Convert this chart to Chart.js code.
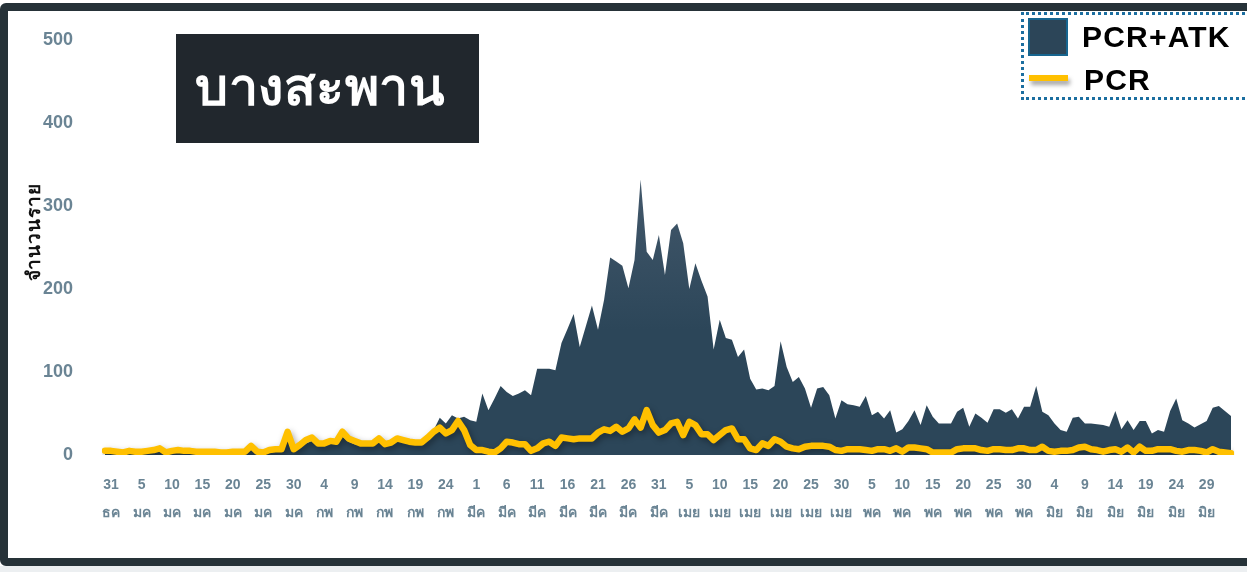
<!DOCTYPE html>
<html lang="th">
  <head>
    <meta charset="UTF-8" />
    <script src="https://cdn.jsdelivr.net/npm/chart.js"></script>
    <title>บางสะพาน</title>
    <style>
      html, body { margin: 0; padding: 0; background: #fff; overflow: hidden; }
      body { width: 1247px; height: 572px; position: relative; font-family: "Liberation Sans", Arial, sans-serif; }
      #frame {
        position: absolute; left: 0; top: 3px; width: 1290px; height: 563px;
        box-sizing: border-box; border: 8px solid #263238; border-radius: 6px;
      }
      #under { position: absolute; left: 0; top: 566px; width: 1247px; height: 6px; background: #eceff1; }
      #chartBox { position: absolute; left: 0; top: 0; width: 1247px; height: 572px; }
      #title {
        position: absolute; left: 176px; top: 34px; width: 303px; height: 109px;
        background: #21272d; color: #fff; font-weight: bold; font-size: 52px;
        box-sizing: border-box; padding-left: 19px; line-height: 106px; letter-spacing: 0.5px;
      }
      #ytitle {
        position: absolute; left: 33px; top: 232px; transform: translate(-50%, -50%) rotate(-90deg);
        font-weight: bold; font-size: 19px; color: #111; white-space: nowrap; letter-spacing: 1px;
      }
      #legend {
        position: absolute; left: 1021px; top: 12px; width: 260px; height: 88px;
        box-sizing: border-box; border: 3px dotted #1b6ea0;
      }
      .sw1 {
        position: absolute; left: 1028px; top: 18px; width: 40px; height: 38px; box-sizing: border-box;
        background: #2c4558; border: 2px solid #17658f;
      }
      .sw2 {
        position: absolute; left: 1029px; top: 75px; width: 39px; height: 6px; background: #ffc000;
        box-shadow: 2px 4px 4px rgba(0,0,0,0.35);
      }
      .lt { position: absolute; font-weight: bold; font-size: 30px; color: #000; letter-spacing: 1.2px; }
    </style>
  </head>
  <body>
    <div id="frame"></div>
    <div id="under"></div>
    <div id="chartBox"><canvas id="chart"></canvas></div>
    <div id="title">บางสะพาน</div>
    <div id="ytitle">จำนวนราย</div>
    <div id="legend"></div>
    <div class="sw1"></div>
    <div class="lt" style="left:1082px; top:20px;">PCR+ATK</div>
    <div class="sw2"></div>
    <div class="lt" style="left:1084px; top:63px;">PCR</div>

    <script>
      // วันที่ 30 ธค 64 ถึง 3 กค 65 (รายวัน)
      const monthNames = ["ธค", "มค", "กพ", "มีค", "เมย", "พค", "มิย", "กค"];
      const monthDays = [31, 31, 28, 31, 30, 31, 30, 31];
      const categories = [];
      for (let m = 0; m < monthNames.length; m++) {
        for (let d = 1; d <= monthDays[m]; d++) {
          if (m === 0 && d < 30) continue;
          if (m === 7 && d > 3) continue;
          categories.push(d + " " + monthNames[m]);
        }
      }

      const tickLabels = [
        "31 ธค", "5 มค", "10 มค", "15 มค", "20 มค", "25 มค", "30 มค",
        "4 กพ", "9 กพ", "14 กพ", "19 กพ", "24 กพ",
        "1 มีค", "6 มีค", "11 มีค", "16 มีค", "21 มีค", "26 มีค", "31 มีค",
        "5 เมย", "10 เมย", "15 เมย", "20 เมย", "25 เมย", "30 เมย",
        "5 พค", "10 พค", "15 พค", "20 พค", "25 พค", "30 พค",
        "4 มิย", "9 มิย", "14 มิย", "19 มิย", "24 มิย", "29 มิย"
      ];

      const yTicks = [0, 100, 200, 300, 400, 500];

      // PCR+ATK
      const pcrAtk = [
        4, 4, 3, 2, 4, 3, 3, 4, 5, 6, 2, 4, 5, 4, 4, 3, 3, 3, 3, 2,
        2, 3, 3, 3, 9, 3, 2, 5, 6, 6, 24, 6, 10, 14, 17, 12, 11, 14, 13, 22,
        16, 13, 11, 11, 12, 17, 10, 12, 17, 15, 13, 12, 13, 24, 30, 45, 38, 48, 44, 46,
        42, 40, 74, 54, 68, 83, 76, 71, 74, 78, 72, 104, 104, 104, 102, 135, 152, 170, 130, 155,
        180, 151, 187, 238, 233, 228, 201, 235, 332, 245, 235, 265, 217, 271, 279, 255, 200, 231, 210, 191,
        127, 163, 141, 139, 118, 127, 92, 79, 80, 78, 83, 137, 106, 88, 94, 80, 57, 80, 82, 72,
        44, 66, 61, 60, 58, 71, 48, 52, 44, 54, 27, 31, 41, 54, 36, 60, 46, 38, 38, 38,
        52, 57, 34, 50, 45, 39, 55, 55, 51, 55, 44, 58, 58, 83, 52, 48, 38, 30, 28, 45,
        46, 38, 38, 37, 36, 34, 53, 31, 42, 30, 41, 41, 26, 30, 28, 53, 68, 42, 38, 33,
        37, 41, 57, 59, 53, 47
      ];

      // PCR
      const pcr = [
        5, 5, 4, 3, 5, 4, 4, 5, 6, 8, 3, 5, 6, 5, 5, 4, 4, 4, 4, 3,
        3, 4, 4, 4, 11, 4, 3, 6, 7, 7, 28, 7, 12, 18, 21, 14, 14, 17, 16, 28,
        20, 17, 14, 14, 14, 20, 13, 15, 20, 18, 16, 15, 15, 21, 28, 33, 26, 30, 41, 30,
        12, 6, 6, 4, 3, 8, 16, 15, 13, 13, 5, 8, 14, 16, 11, 21, 20, 19, 20, 20,
        20, 27, 31, 29, 34, 28, 32, 43, 33, 54, 36, 27, 30, 38, 40, 24, 40, 36, 25, 25,
        18, 24, 30, 32, 19, 19, 8, 6, 14, 11, 19, 16, 10, 8, 7, 10, 11, 11, 11, 10,
        6, 5, 7, 7, 7, 6, 5, 7, 7, 5, 8, 4, 9, 9, 8, 7, 3, 3, 3, 3,
        7, 8, 8, 8, 6, 5, 7, 7, 6, 6, 8, 8, 6, 6, 10, 5, 4, 5, 5, 6,
        9, 10, 7, 6, 4, 6, 7, 4, 9, 3, 10, 5, 5, 7, 7, 7, 5, 4, 6, 6,
        5, 3, 7, 4, 3, 2
      ];

      const shadowPlugin = {
        id: "shadows",
        beforeDatasetDraw(chart, args) {
          const ctx = chart.ctx;
          ctx.save();
          if (args.index === 1) {
            ctx.shadowColor = "rgba(0,0,0,0.35)";
            ctx.shadowBlur = 6;
            ctx.shadowOffsetX = 2;
            ctx.shadowOffsetY = 3;
          } else {
            ctx.shadowColor = "rgba(0,0,0,0.3)";
            ctx.shadowBlur = 7;
            ctx.shadowOffsetX = 3;
            ctx.shadowOffsetY = 3;
          }
        },
        afterDatasetDraw(chart) {
          chart.ctx.restore();
        },
      };

      const tickFont = { family: "'Liberation Sans', Arial, sans-serif", weight: "bold" };

      new Chart(document.getElementById("chart"), {
        type: "line",
        data: {
          labels: categories,
          datasets: [
            {
              label: "PCR+ATK",
              data: pcrAtk,
              fill: "origin",
              borderWidth: 0,
              pointRadius: 0,
              tension: 0,
              backgroundColor: function (c) {
                const area = c.chart.chartArea;
                if (!area) return "#2c4558";
                const g = c.chart.ctx.createLinearGradient(0, 170, 0, 330);
                g.addColorStop(0, "#44596c");
                g.addColorStop(1, "#2c4659");
                return g;
              },
              order: 2,
            },
            {
              label: "PCR",
              data: pcr,
              fill: false,
              borderColor: "#ffc000",
              borderWidth: 6.5,
              borderJoinStyle: "round",
              borderCapStyle: "round",
              pointRadius: 0,
              tension: 0,
              order: 1,
            },
          ],
        },
        options: {
          responsive: true,
          maintainAspectRatio: false,
          animation: false,
          layout: { padding: { left: 0, right: 16, top: 40, bottom: 0 } },
          scales: {
            x: {
              grid: { display: false },
              border: { display: false },
              afterFit: function (s) { s.height = 117; },
              ticks: {
                autoSkip: false,
                maxRotation: 0,
                minRotation: 0,
                padding: 8,
                color: "#6a8494",
                font: { ...tickFont, size: 14, lineHeight: 2 },
                callback: function (value, index) {
                  const lab = categories[index];
                  return tickLabels.includes(lab) ? lab.split(" ") : "";
                },
              },
            },
            y: {
              min: 0,
              max: 500,
              grid: { display: false },
              border: { display: false },
              afterFit: function (s) { s.width = 105; },
              afterBuildTicks: function (s) { s.ticks = yTicks.map(function (v) { return { value: v }; }); },
              ticks: {
                padding: 24,
                color: "#6a8494",
                font: { ...tickFont, size: 18 },
              },
            },
          },
          plugins: {
            legend: { display: false },
            tooltip: { enabled: false },
          },
        },
        plugins: [shadowPlugin],
      });
    </script>
  </body>
</html>
